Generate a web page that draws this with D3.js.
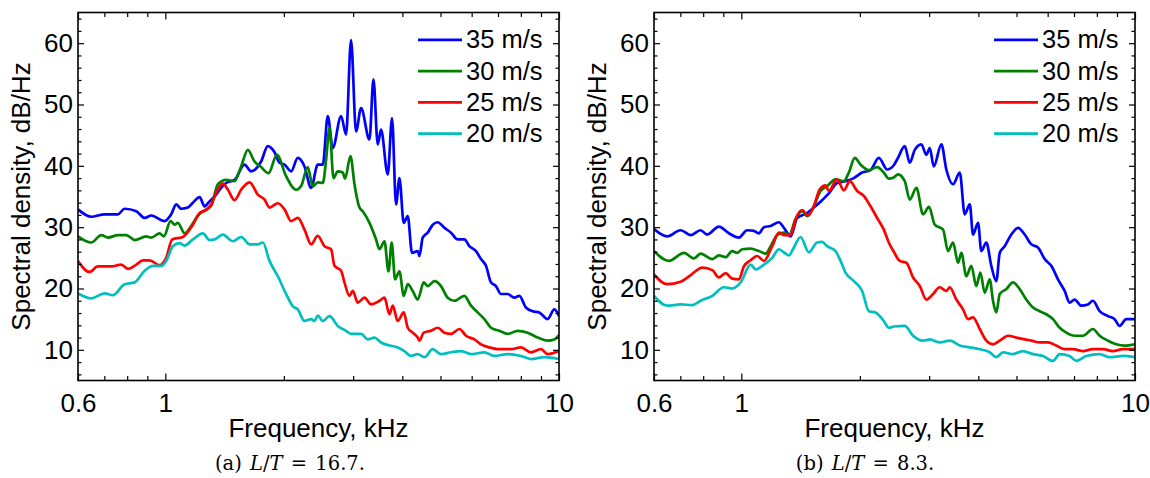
<!DOCTYPE html>
<html>
<head>
<meta charset="utf-8">
<script src="https://cdn.jsdelivr.net/npm/d3@7"></script>
<style>
  html, body { margin: 0; padding: 0; background: #fff; }
  svg { display: block; }
  text { font-family: "Liberation Sans", Arial, Helvetica, sans-serif; fill: #000; }
  .caption { font-family: "DejaVu Serif", "Liberation Serif", serif; word-spacing: 2px; }
</style>
</head>
<body>
<svg id="chart" width="1150" height="478"></svg>
<script>
// Speeds shown in each panel, top to bottom in the legend
const speeds = ["35 m/s", "30 m/s", "25 m/s", "20 m/s"];
const colors = ["#0000ff", "#008000", "#ff0000", "#00bfbf"];

// Axis ticks
const xMajor = [0.6, 1, 10];
const xMinor = [0.7, 0.8, 0.9, 2, 3, 4, 5, 6, 7, 8, 9];
const yMajor = [10, 20, 30, 40, 50, 60];
const yMinor = [6, 8, 12, 14, 16, 18, 22, 24, 26, 28, 32, 34, 36, 38, 42, 44, 46, 48, 52, 54, 56, 58, 62, 64];

// Panel (a): L/T = 16.7 — [frequency kHz, spectral density dB/Hz]
const a35 = [[0.600,32.9],[0.648,31.7],[0.701,32.1],[0.758,32.1],[0.788,33.0],[0.844,32.6],[0.886,31.5],[0.921,31.9],[0.996,31.0],[1.035,32.1],[1.066,33.7],[1.097,33.0],[1.141,33.2],[1.175,34.0],[1.222,34.9],[1.258,33.4],[1.295,34.2],[1.334,35.0],[1.386,36.4],[1.427,37.2],[1.499,37.7],[1.589,40.2],[1.652,39.1],[1.751,40.7],[1.821,43.2],[1.894,42.2],[1.950,40.5],[2.008,40.2],[2.087,39.1],[2.170,41.3],[2.257,39.9],[2.346,36.4],[2.439,40.2],[2.512,40.2],[2.586,48.1],[2.663,42.9],[2.795,48.1],[2.878,45.1],[2.963,60.5],[3.051,45.6],[3.142,49.4],[3.300,44.3],[3.378,54.1],[3.464,43.5],[3.531,45.9],[3.673,38.6],[3.766,47.8],[3.855,33.7],[3.932,38.0],[4.033,30.7],[4.128,31.8],[4.233,25.8],[4.376,26.1],[4.420,25.3],[4.506,28.3],[4.640,29.1],[4.778,30.4],[4.919,30.8],[5.115,29.9],[5.317,29.1],[5.529,28.0],[5.750,28.0],[5.920,26.9],[6.153,26.1],[6.335,24.8],[6.524,23.7],[6.717,21.0],[6.916,20.4],[7.121,19.1],[7.406,19.1],[7.701,18.5],[7.930,18.8],[8.241,16.9],[8.570,16.3],[8.912,16.1],[9.355,15.0],[9.729,16.6],[10.0,15.5]];
const a30 = [[0.600,28.5],[0.648,27.5],[0.688,28.7],[0.715,28.3],[0.758,28.7],[0.796,28.7],[0.836,27.9],[0.894,28.5],[0.921,28.3],[0.967,29.0],[0.992,28.5],[1.031,31.0],[1.056,30.4],[1.076,30.7],[1.119,29.0],[1.163,30.2],[1.210,31.9],[1.270,32.9],[1.308,33.5],[1.360,37.0],[1.427,37.7],[1.499,37.5],[1.558,39.9],[1.620,42.6],[1.685,40.7],[1.751,39.8],[1.829,38.8],[1.920,41.8],[2.027,38.3],[2.149,36.1],[2.213,36.7],[2.301,39.8],[2.369,36.6],[2.439,37.3],[2.512,37.2],[2.561,41.0],[2.612,46.2],[2.674,38.0],[2.742,39.1],[2.823,38.9],[2.861,37.9],[2.953,41.6],[3.023,37.0],[3.113,33.2],[3.173,32.6],[3.300,30.7],[3.430,28.0],[3.499,26.4],[3.603,27.7],[3.688,22.8],[3.759,27.5],[3.833,21.5],[3.932,22.8],[4.033,18.8],[4.128,20.7],[4.250,19.6],[4.376,18.2],[4.533,21.0],[4.640,20.4],[4.825,21.2],[5.015,20.4],[5.215,18.5],[5.423,18.0],[5.750,18.8],[5.976,17.2],[6.214,16.1],[6.463,15.0],[6.717,13.6],[7.055,13.1],[7.406,12.6],[7.851,13.1],[8.323,12.8],[8.824,12.0],[9.355,11.5],[9.729,11.7],[10.0,12.4]];
const a25 = [[0.600,24.5],[0.642,22.7],[0.674,23.6],[0.729,23.6],[0.773,23.9],[0.804,23.2],[0.844,23.9],[0.877,24.6],[0.912,24.6],[0.967,23.8],[1.005,25.0],[1.041,28.0],[1.108,28.4],[1.175,30.4],[1.222,32.3],[1.270,32.8],[1.308,33.7],[1.346,35.6],[1.400,37.1],[1.442,36.1],[1.499,34.4],[1.558,36.1],[1.637,37.3],[1.718,35.3],[1.787,34.5],[1.839,33.2],[1.931,33.9],[2.008,32.9],[2.087,31.0],[2.170,31.5],[2.257,29.6],[2.346,27.2],[2.439,28.6],[2.537,26.9],[2.636,26.4],[2.690,23.7],[2.795,22.9],[2.851,21.0],[2.936,18.8],[2.993,19.6],[3.082,17.7],[3.205,18.5],[3.331,17.4],[3.499,18.0],[3.603,18.5],[3.709,15.8],[3.782,17.2],[3.894,14.7],[4.033,16.1],[4.128,13.6],[4.250,12.8],[4.376,12.0],[4.420,11.5],[4.533,12.8],[4.730,13.1],[4.919,13.6],[5.115,12.8],[5.317,12.6],[5.584,13.4],[5.804,12.3],[6.096,11.7],[6.335,10.9],[6.654,10.4],[7.055,10.1],[7.549,10.1],[8.004,10.4],[8.485,9.6],[8.996,10.1],[9.355,9.3],[10.0,9.8]];
const a20 = [[0.600,19.2],[0.648,18.4],[0.701,19.2],[0.736,18.9],[0.788,20.7],[0.836,21.0],[0.886,22.9],[0.930,23.7],[0.976,23.7],[1.005,24.5],[1.045,26.9],[1.087,27.4],[1.119,27.0],[1.175,28.0],[1.246,29.0],[1.295,27.9],[1.334,28.0],[1.400,28.8],[1.484,27.7],[1.558,28.4],[1.637,27.2],[1.718,27.2],[1.769,27.5],[1.839,24.5],[1.931,22.0],[2.027,19.1],[2.108,17.1],[2.170,16.6],[2.257,14.7],[2.346,15.0],[2.393,14.7],[2.439,15.6],[2.512,14.7],[2.612,15.5],[2.742,13.9],[2.878,13.1],[2.963,12.6],[3.142,12.6],[3.268,11.7],[3.398,12.0],[3.531,11.2],[3.709,10.7],[3.894,10.4],[4.049,9.8],[4.208,9.0],[4.376,9.3],[4.551,8.8],[4.778,10.1],[5.015,9.3],[5.317,9.6],[5.636,9.8],[5.976,9.3],[6.463,9.6],[6.851,9.0],[7.406,9.3],[8.004,9.0],[8.485,8.5],[9.176,8.8],[10.0,8.5]];

// Panel (b): L/T = 8.3
const b35 = [[0.600,29.7],[0.648,28.5],[0.701,29.5],[0.744,28.7],[0.788,29.5],[0.819,28.8],[0.877,30.1],[0.930,29.0],[0.986,28.3],[1.035,29.5],[1.076,29.4],[1.108,29.0],[1.141,30.0],[1.187,30.2],[1.246,30.8],[1.283,29.9],[1.334,28.5],[1.386,31.5],[1.470,32.3],[1.528,33.2],[1.604,34.4],[1.668,35.5],[1.751,37.2],[1.839,37.5],[1.931,38.0],[2.027,38.9],[2.129,39.3],[2.235,41.3],[2.346,39.4],[2.439,40.1],[2.500,41.3],[2.601,43.2],[2.678,40.5],[2.758,42.6],[2.866,43.5],[2.951,41.8],[3.011,42.9],[3.082,39.9],[3.222,43.5],[3.317,39.4],[3.450,37.0],[3.588,38.9],[3.694,32.1],[3.804,33.7],[3.878,28.8],[3.993,30.7],[4.070,26.1],[4.191,27.5],[4.315,23.7],[4.443,21.2],[4.533,25.8],[4.667,26.9],[4.851,28.8],[5.044,29.9],[5.246,28.8],[5.452,27.2],[5.669,26.7],[5.896,24.8],[6.128,23.7],[6.373,21.5],[6.627,19.6],[6.823,17.7],[7.026,18.2],[7.302,17.2],[7.594,17.4],[7.819,18.0],[8.131,16.3],[8.535,15.5],[8.876,15.0],[9.139,13.9],[9.499,15.0],[10.0,15.0]];
const b30 = [[0.600,26.1],[0.655,24.5],[0.715,25.8],[0.758,24.9],[0.788,25.7],[0.844,24.8],[0.877,25.4],[0.912,25.1],[0.948,26.1],[0.976,25.8],[1.005,26.4],[1.056,26.5],[1.108,26.1],[1.153,25.7],[1.187,26.9],[1.233,28.7],[1.283,29.1],[1.321,28.7],[1.373,31.3],[1.427,32.6],[1.470,31.8],[1.528,33.4],[1.589,35.9],[1.652,36.7],[1.735,37.8],[1.821,37.5],[1.875,38.9],[1.942,41.3],[2.008,40.2],[2.108,39.3],[2.213,39.8],[2.301,38.9],[2.369,37.9],[2.439,38.1],[2.500,38.6],[2.601,37.5],[2.678,34.5],[2.784,36.4],[2.895,32.1],[2.998,33.3],[3.100,30.4],[3.254,29.6],[3.350,26.1],[3.450,27.5],[3.552,24.2],[3.621,25.8],[3.729,22.0],[3.839,23.7],[3.953,20.4],[4.047,22.6],[4.152,19.3],[4.275,21.5],[4.358,18.0],[4.443,16.1],[4.533,19.1],[4.710,19.9],[4.899,21.0],[5.094,19.9],[5.294,18.2],[5.506,16.9],[5.726,16.3],[5.952,15.8],[6.189,15.0],[6.436,13.6],[6.689,12.8],[7.026,12.3],[7.375,12.3],[7.819,13.4],[8.131,12.3],[8.535,11.5],[8.959,10.9],[9.410,10.7],[10.0,10.9]];
const b25 = [[0.600,22.3],[0.648,20.7],[0.701,21.1],[0.744,22.2],[0.796,23.4],[0.844,23.0],[0.877,21.8],[0.912,22.5],[0.948,21.6],[0.986,21.5],[1.015,23.6],[1.056,24.6],[1.097,25.3],[1.141,24.5],[1.198,26.9],[1.246,29.1],[1.283,28.7],[1.334,28.7],[1.373,31.3],[1.427,32.8],[1.476,31.9],[1.528,33.4],[1.580,36.1],[1.637,36.8],[1.668,35.9],[1.751,37.8],[1.821,36.0],[1.886,37.5],[1.969,35.9],[2.047,35.1],[2.129,33.4],[2.213,31.5],[2.301,29.6],[2.369,27.5],[2.439,26.0],[2.527,24.5],[2.626,24.2],[2.731,21.8],[2.840,20.4],[2.951,18.2],[3.069,19.1],[3.192,20.2],[3.317,19.6],[3.384,20.2],[3.517,18.2],[3.658,16.6],[3.766,15.0],[3.878,15.3],[4.033,13.4],[4.191,11.5],[4.358,10.9],[4.533,11.5],[4.758,12.3],[4.994,12.0],[5.246,11.7],[5.452,11.5],[5.726,11.2],[6.011,11.2],[6.310,10.7],[6.627,10.1],[6.957,10.1],[7.375,9.8],[7.819,10.1],[8.289,10.1],[8.788,9.8],[9.317,10.1],[10.0,10.1]];
const b20 = [[0.600,18.8],[0.648,17.2],[0.701,17.4],[0.750,17.3],[0.788,18.0],[0.844,18.8],[0.903,20.2],[0.948,20.0],[0.996,21.0],[1.056,23.9],[1.087,23.1],[1.141,23.9],[1.198,25.0],[1.246,26.4],[1.295,25.7],[1.321,25.4],[1.360,26.7],[1.414,28.4],[1.484,25.9],[1.558,27.5],[1.604,27.6],[1.652,26.9],[1.735,26.1],[1.787,24.5],[1.839,22.6],[1.931,21.2],[2.027,19.6],[2.108,16.3],[2.192,16.1],[2.301,14.7],[2.369,13.6],[2.439,13.8],[2.601,13.9],[2.731,12.3],[2.895,11.5],[3.011,11.7],[3.192,11.2],[3.384,11.5],[3.588,10.7],[3.804,10.4],[4.033,10.1],[4.275,9.6],[4.443,8.8],[4.621,9.6],[4.899,9.3],[5.194,9.8],[5.506,9.3],[5.837,9.0],[6.189,8.2],[6.436,9.3],[6.823,9.0],[7.092,8.2],[7.519,9.0],[8.131,9.3],[8.620,8.8],[9.317,9.0],[10.0,8.8]];

const panels = [
  { left: 78,  series: [a35, a30, a25, a20], tag: "(a)", ratio: "16.7.", center: 290 },
  { left: 654, series: [b35, b30, b25, b20], tag: "(b)", ratio: "8.3.",  center: 865 }
];

const W = 481, H = 368, TOP = 12.5;
const svg = d3.select("#chart");
svg.append("rect").attr("width", 1150).attr("height", 478).attr("fill", "#fff");

panels.forEach((p, pi) => {
  const x = d3.scaleLog().domain([0.6, 10]).range([0, W]);
  const y = d3.scaleLinear().domain([5, 65]).range([H, 0]);
  const g = svg.append("g").attr("transform", `translate(${p.left},${TOP})`);

  const clipId = "clip" + pi;
  g.append("clipPath").attr("id", clipId)
    .append("rect").attr("width", W).attr("height", H);

  // Spectra
  const line = d3.line().curve(d3.curveMonotoneX).x(d => x(d[0])).y(d => y(d[1]));
  const curves = g.append("g").attr("clip-path", `url(#${clipId})`);
  p.series.forEach((s, i) => {
    curves.append("path").datum(s)
      .attr("d", line)
      .attr("fill", "none")
      .attr("stroke", colors[i])
      .attr("stroke-width", 2.7)
      .attr("stroke-linejoin", "round");
  });

  // Inward ticks on all four sides
  const fmtX = d => (d === 0.6 ? "0.6" : String(d));
  const tickFont = g2 => g2.selectAll("text").style("font-size", "26px");
  const clean = g2 => g2.select(".domain").remove();

  g.append("g").attr("transform", `translate(0,${H})`)
    .call(d3.axisBottom(x).tickValues(xMajor).tickFormat(fmtX).tickSize(-7).tickPadding(13))
    .call(clean).call(tickFont);
  g.append("g").attr("transform", `translate(0,${H})`)
    .call(d3.axisBottom(x).tickValues(xMinor).tickFormat("").tickSize(-4.5))
    .call(clean);
  g.append("g")
    .call(d3.axisTop(x).tickValues(xMajor).tickFormat("").tickSize(-7)).call(clean);
  g.append("g")
    .call(d3.axisTop(x).tickValues(xMinor).tickFormat("").tickSize(-4.5)).call(clean);

  g.append("g")
    .call(d3.axisLeft(y).tickValues(yMajor).tickSize(-6).tickPadding(5))
    .call(clean).call(tickFont);
  g.append("g")
    .call(d3.axisLeft(y).tickValues(yMinor).tickFormat("").tickSize(-3.5)).call(clean);
  g.append("g").attr("transform", `translate(${W},0)`)
    .call(d3.axisRight(y).tickValues(yMajor).tickFormat("").tickSize(-6)).call(clean);
  g.append("g").attr("transform", `translate(${W},0)`)
    .call(d3.axisRight(y).tickValues(yMinor).tickFormat("").tickSize(-3.5)).call(clean);

  g.selectAll(".tick line").attr("stroke", "#000").attr("stroke-width", 1.2);
  g.selectAll(".tick text").attr("fill", "#000");

  // Frame
  g.append("rect").attr("width", W).attr("height", H)
    .attr("fill", "none").attr("stroke", "#000").attr("stroke-width", 1.6);

  // Axis titles
  g.append("text")
    .attr("x", W / 2).attr("y", 437 - TOP)
    .attr("text-anchor", "middle")
    .style("font-size", "26px")
    .text("Frequency, kHz");
  g.append("text")
    .attr("transform", `translate(${-48},${H / 2}) rotate(-90)`)
    .attr("text-anchor", "middle")
    .style("font-size", "26px")
    .text("Spectral density, dB/Hz");

  // Legend
  const lg = g.append("g").attr("transform", `translate(${W - 141},0)`);
  speeds.forEach((s, i) => {
    const by = 48.3 - TOP + i * 31.3;
    lg.append("line")
      .attr("x1", 0).attr("x2", 44)
      .attr("y1", by - 8.5).attr("y2", by - 8.5)
      .attr("stroke", colors[i]).attr("stroke-width", 2.8);
    lg.append("text")
      .attr("x", 48).attr("y", by)
      .style("font-size", "25.5px")
      .text(s);
  });

  // Caption
  const cap = svg.append("text").attr("class", "caption")
    .attr("x", p.center).attr("y", 470)
    .attr("text-anchor", "middle")
    .style("font-size", "19.5px");
  cap.append("tspan").text(p.tag + " ");
  cap.append("tspan").style("font-style", "italic").text("L");
  cap.append("tspan").text("/");
  cap.append("tspan").style("font-style", "italic").text("T");
  cap.append("tspan").text(" = " + p.ratio);
});
</script>
</body>
</html>
